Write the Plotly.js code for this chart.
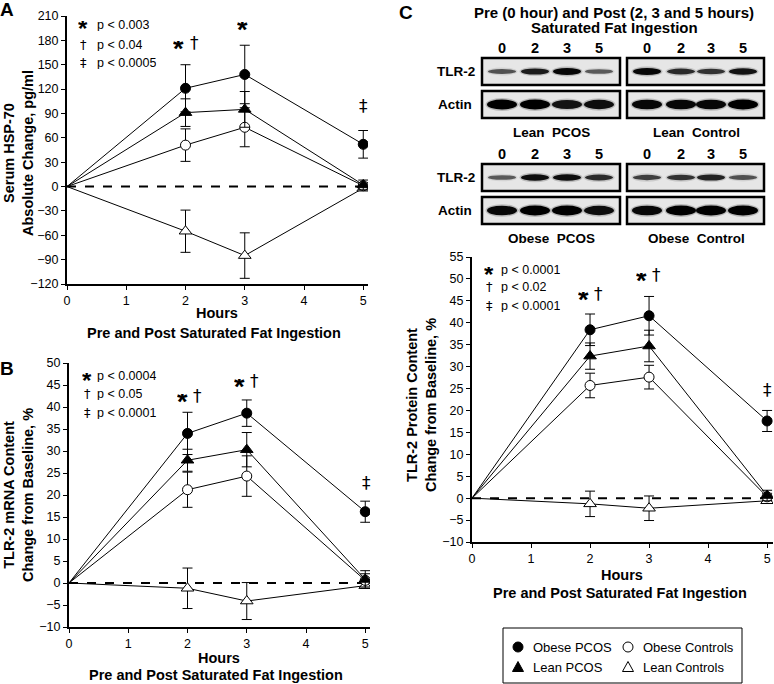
<!DOCTYPE html>
<html>
<head>
<meta charset="utf-8">
<script src="https://cdn.plot.ly/plotly-3.0.1.min.js"></script>
<style>html,body{margin:0;padding:0;background:#fff;}#chart{width:774px;height:684px;}</style>
</head>
<body>
<div id="chart"></div>
<script>
// ---------- DATA ----------
const hours = [0, 2, 3, 5];
const hourTicks = [0, 1, 2, 3, 4, 5];
const seriesNames = ['Obese PCOS', 'Lean PCOS', 'Obese Controls', 'Lean Controls'];

// Panel A: Serum HSP-70 absolute change, pg/ml
const hspObesePCOS = [0, 121, 138, 52];
const hspObesePCOSErr = [NaN, 29, 36, 17];
const hspLeanPCOS = [0, 91, 95, 2];
const hspLeanPCOSErr = [NaN, 17, 22, 6];
const hspObeseCtrl = [0, 51, 73, 1];
const hspObeseCtrlErr = [NaN, 20, 24, 4];
const hspLeanCtrl = [0, -55, -85, -2];
const hspLeanCtrlErr = [NaN, 26, 28, 3];

// Panel B: TLR-2 mRNA content change from baseline, %
const mrnaObesePCOS = [0, 34.0, 38.6, 16.2];
const mrnaObesePCOSErr = [NaN, 4.8, 3.0, 2.4];
const mrnaLeanPCOS = [0, 27.9, 30.3, 0.8];
const mrnaLeanPCOSErr = [NaN, 2.5, 3.9, 2.0];
const mrnaObeseCtrl = [0, 21.2, 24.3, 0.6];
const mrnaObeseCtrlErr = [NaN, 4.0, 4.6, 1.5];
const mrnaLeanCtrl = [0, -1.2, -4.1, -0.6];
const mrnaLeanCtrlErr = [NaN, 4.6, 4.2, 0.5];

// Panel C: TLR-2 protein content change from baseline, %
const protObesePCOS = [0, 38.4, 41.6, 17.6];
const protObesePCOSErr = [NaN, 3.6, 4.4, 2.4];
const protLeanPCOS = [0, 32.4, 34.7, 0.6];
const protLeanPCOSErr = [NaN, 3.0, 3.6, 1.2];
const protObeseCtrl = [0, 25.7, 27.6, 0.3];
const protObeseCtrlErr = [NaN, 2.8, 2.7, 0.8];
const protLeanCtrl = [0, -1.3, -2.3, -0.6];
const protLeanCtrlErr = [NaN, 2.9, 2.8, 0.5];

// Significance legends
const sigA = ['p < 0.003', 'p < 0.04', 'p < 0.0005'];
const sigB = ['p < 0.0004', 'p < 0.05', 'p < 0.0001'];
const sigC = ['p < 0.0001', 'p < 0.02', 'p < 0.0001'];
const sigSymbols = ['*', '\u2020', '\u2021'];

// Western blot lanes and relative band intensities (0..1)
const blotLanes = ['0', '2', '3', '5'];
const tlr2LeanPCOS = [0.45, 0.8, 0.95, 0.4];
const actinLeanPCOS = [1.0, 1.0, 0.85, 0.9];
const tlr2LeanCtrl = [0.95, 0.7, 0.65, 0.85];
const actinLeanCtrl = [0.95, 0.95, 0.95, 1.0];
const tlr2ObesePCOS = [0.4, 0.9, 0.9, 0.7];
const actinObesePCOS = [0.95, 1.0, 1.0, 0.9];
const tlr2ObeseCtrl = [0.55, 0.65, 0.75, 0.45];
const actinObeseCtrl = [0.95, 1.0, 1.0, 1.0];

// ---------- HELPERS ----------
const W = 774, H = 684;
const px = x => x / W;
const py = y => 1 - y / H;
const FONT = 'Liberation Sans, Arial, sans-serif';
const SYMFONT = 'DejaVu Sans, Liberation Sans, sans-serif';

function series(x, y, err, style, xa, ya) {
  return {
    type: 'scatter', mode: 'lines+markers', x: x, y: y,
    xaxis: xa, yaxis: ya, showlegend: false, hoverinfo: 'skip',
    line: {color: '#000', width: 1},
    marker: {symbol: style.symbol, size: x.map(h => h === 0 ? 0 : style.size), opacity: 1,
             color: style.fill, line: {color: '#000', width: 1}},
    error_y: {type: 'data', array: err, visible: true, color: '#000', thickness: 1, width: 5}
  };
}
const stObesePCOS = {symbol: 'circle', size: 10, fill: '#000'};
const stLeanPCOS = {symbol: 'triangle-up', size: 11, fill: '#000'};
const stObeseCtrl = {symbol: 'circle', size: 10, fill: '#fff'};
const stLeanCtrl = {symbol: 'triangle-up', size: 11, fill: '#fff'};

const data = [
  series(hours, hspLeanCtrl, hspLeanCtrlErr, stLeanCtrl, 'x', 'y'),
  series(hours, hspObeseCtrl, hspObeseCtrlErr, stObeseCtrl, 'x', 'y'),
  series(hours, hspLeanPCOS, hspLeanPCOSErr, stLeanPCOS, 'x', 'y'),
  series(hours, hspObesePCOS, hspObesePCOSErr, stObesePCOS, 'x', 'y'),
  series(hours, mrnaLeanCtrl, mrnaLeanCtrlErr, stLeanCtrl, 'x2', 'y2'),
  series(hours, mrnaObeseCtrl, mrnaObeseCtrlErr, stObeseCtrl, 'x2', 'y2'),
  series(hours, mrnaLeanPCOS, mrnaLeanPCOSErr, stLeanPCOS, 'x2', 'y2'),
  series(hours, mrnaObesePCOS, mrnaObesePCOSErr, stObesePCOS, 'x2', 'y2'),
  series(hours, protLeanCtrl, protLeanCtrlErr, stLeanCtrl, 'x3', 'y3'),
  series(hours, protObeseCtrl, protObeseCtrlErr, stObeseCtrl, 'x3', 'y3'),
  series(hours, protLeanPCOS, protLeanPCOSErr, stLeanPCOS, 'x3', 'y3'),
  series(hours, protObesePCOS, protObesePCOSErr, stObesePCOS, 'x3', 'y3')
];

function xAxis(domain, range, anchor) {
  return {domain: domain, range: range, anchor: anchor, tickvals: hourTicks,
    ticks: 'outside', ticklen: 4, tickwidth: 1, tickcolor: '#000',
    showline: true, linecolor: '#000', linewidth: 2, showgrid: false, zeroline: false,
    tickfont: {family: FONT, size: 12.5, color: '#000'}, fixedrange: true};
}
function yAxis(domain, range, dtick, anchor) {
  return {domain: domain, range: range, anchor: anchor, dtick: dtick, tick0: 0,
    ticks: 'outside', ticklen: 4, tickwidth: 1, tickcolor: '#000',
    showline: true, linecolor: '#000', linewidth: 2, showgrid: false, zeroline: false,
    tickfont: {family: FONT, size: 12.5, color: '#000'}, fixedrange: true};
}

const shapes = [];
const annotations = [];

// zero dashed lines
[['x', 'y', 5.08], ['x2', 'y2', 5.08], ['x3', 'y3', 5.1]].forEach(([xa, ya, xe]) => {
  shapes.push({type: 'line', xref: xa, yref: ya, x0: 0, x1: xe, y0: 0, y1: 0,
    line: {color: '#000', width: 2, dash: 'dash'}, layer: 'below'});
});

function txt(x, y, text, opts) {
  annotations.push(Object.assign({xref: 'paper', yref: 'paper', x: px(x), y: py(y), text: text,
    showarrow: false, xanchor: 'center', yanchor: 'middle',
    font: {family: FONT, size: 12.5, color: '#000'}}, opts || {}));
}
function bold(x, y, text, size, opts) {
  txt(x, y, '<b>' + text + '</b>', Object.assign({font: {family: FONT, size: size, color: '#000'}}, opts || {}));
}

// Panel letters
bold(7, 9, 'A', 19);
bold(7, 368, 'B', 19);
bold(406, 12, 'C', 19);

// Axis titles
bold(18, 153, 'Serum HSP-70<br>Absolute Change, pg/ml', 14.5, {textangle: -90});
bold(18, 495, 'TLR-2 mRNA Content<br>Change from Baseline, %', 14.5, {textangle: -90});
bold(422, 405, 'TLR-2 Protein Content<br>Change from Baseline, %', 14.5, {textangle: -90});
bold(217, 313, 'Hours', 14.5);
bold(214, 333, 'Pre and Post Saturated Fat Ingestion', 14.5);
bold(219, 658, 'Hours', 14.5);
bold(216, 675, 'Pre and Post Saturated Fat Ingestion', 14.5);
bold(622, 575, 'Hours', 14.5);
bold(620, 593, 'Pre and Post Saturated Fat Ingestion', 14.5);

// significance keys
function sigKey(labels, symX, textX, rows) {
  labels.forEach((lab, i) => {
    if (i === 0) {
      bold(symX, rows[i] + 5, '*', 24, {height: 15});
    } else {
      txt(symX, rows[i], sigSymbols[i], {font: {family: SYMFONT, size: 13, color: '#000'}, height: 13});
    }
    txt(textX, rows[i], lab, {xanchor: 'left', height: 13});
  });
}
sigKey(sigA, 83, 95, [24, 44, 63]);
sigKey(sigB, 87, 95, [375, 393, 412]);
sigKey(sigC, 489, 499, [269, 287, 305]);

// significance markers over points
function star(x, y) { bold(x, y + 6, '*', 27, {height: 16}); }
function dag(x, y, s) { txt(x, y, s, {font: {family: SYMFONT, size: 17, color: '#000'}}); }
star(178, 43); dag(194, 43, '\u2020');
star(242, 24);
dag(363, 106, '\u2021');
star(182, 396); dag(197, 396, '\u2020');
star(239, 381); dag(254, 381, '\u2020');
dag(366, 483, '\u2021');
star(583, 294); dag(598, 294, '\u2020');
star(641, 275); dag(656, 275, '\u2020');
dag(767, 390, '\u2021');

// ---------- Western blots ----------
bold(614, 13, 'Pre (0 hour) and Post (2, 3 and 5 hours)', 15);
bold(614, 27, 'Saturated Fat Ingestion', 15);

const leftLanes = [502, 535, 567, 599];
const rightLanes = [647, 681, 711, 743];
function blotBox(x0, x1, y0, y1) {
  shapes.push({type: 'rect', xref: 'paper', yref: 'paper', x0: px(x0), x1: px(x1), y0: py(y1), y1: py(y0),
    fillcolor: '#e6e6e6', line: {color: '#000', width: 2.5}, layer: 'above'});
}
function bands(lanes, intens, yc, maxH, bw) {
  intens.forEach((v, i) => {
    const h = maxH * (0.45 + 0.55 * v);
    shapes.push({type: 'circle', xref: 'paper', yref: 'paper',
      x0: px(lanes[i] - bw / 2 - 1.5), x1: px(lanes[i] + bw / 2 + 1.5),
      y0: py(yc + h / 2 + 1.5), y1: py(yc - h / 2 - 1.5),
      fillcolor: 'rgba(0,0,0,' + (0.2 * v).toFixed(2) + ')', line: {width: 0}, layer: 'above'});
    shapes.push({type: 'circle', xref: 'paper', yref: 'paper',
      x0: px(lanes[i] - bw / 2), x1: px(lanes[i] + bw / 2),
      y0: py(yc + h / 2), y1: py(yc - h / 2),
      fillcolor: 'rgba(0,0,0,' + (0.3 + 0.7 * v).toFixed(2) + ')', line: {width: 0}, layer: 'above'});
  });
}
function blotGroup(top, lblLeft, lblRight, tL, aL, tR, aR) {
  blotLanes.forEach((l, i) => {
    bold(leftLanes[i], top - 10, l, 14.5);
    bold(rightLanes[i], top - 10, l, 14.5);
  });
  const tY0 = top, tY1 = top + 27, aY0 = top + 33, aY1 = top + 60;
  bold(477, (tY0 + tY1) / 2, 'TLR-2', 13.5, {xanchor: 'right'});
  bold(474, (aY0 + aY1) / 2, 'Actin', 13.5, {xanchor: 'right'});
  blotBox(482, 620, tY0, tY1); blotBox(627, 764, tY0, tY1);
  blotBox(482, 620, aY0, aY1); blotBox(627, 764, aY0, aY1);
  bands(leftLanes, tL, (tY0 + tY1) / 2, 7, 28);
  bands(rightLanes, tR, (tY0 + tY1) / 2, 7, 28);
  bands(leftLanes, aL, (aY0 + aY1) / 2, 10, 30);
  bands(rightLanes, aR, (aY0 + aY1) / 2, 10, 30);
  bold(551, aY1 + 15, lblLeft, 13.5);
  bold(696, aY1 + 15, lblRight, 13.5);
}
blotGroup(58, 'Lean&nbsp; PCOS', 'Lean&nbsp; Control', tlr2LeanPCOS, actinLeanPCOS, tlr2LeanCtrl, actinLeanCtrl);
blotGroup(164, 'Obese&nbsp; PCOS', 'Obese&nbsp; Control', tlr2ObesePCOS, actinObesePCOS, tlr2ObeseCtrl, actinObeseCtrl);

// ---------- Legend ----------
shapes.push({type: 'rect', xref: 'paper', yref: 'paper', x0: px(503), x1: px(742), y0: py(683), y1: py(628),
  line: {color: '#000', width: 1}, fillcolor: 'rgba(0,0,0,0)'});
function legCircle(cx, cy, fill) {
  shapes.push({type: 'circle', xref: 'paper', yref: 'paper', x0: px(cx - 5), x1: px(cx + 5), y0: py(cy + 5), y1: py(cy - 5),
    fillcolor: fill, line: {color: '#000', width: 1}});
}
function legTri(cx, cy, fill) {
  const p = (x, y) => px(x).toFixed(5) + ',' + py(y).toFixed(5);
  shapes.push({type: 'path', xref: 'paper', yref: 'paper',
    path: 'M' + p(cx - 5.5, cy + 4.5) + ' L' + p(cx + 5.5, cy + 4.5) + ' L' + p(cx, cy - 5.5) + ' Z',
    fillcolor: fill, line: {color: '#000', width: 1}});
}
const legFont = {family: FONT, size: 13, color: '#000'};
legCircle(518, 647, '#000'); txt(531, 647, seriesNames[0], {xanchor: 'left', font: legFont});
legTri(518, 667, '#000'); txt(531, 667, seriesNames[1], {xanchor: 'left', font: legFont});
legCircle(628, 647, '#fff'); txt(641, 647, seriesNames[2], {xanchor: 'left', font: legFont});
legTri(628, 667, '#fff'); txt(641, 667, seriesNames[3], {xanchor: 'left', font: legFont});

const layout = {
  width: W, height: H, margin: {l: 0, r: 0, t: 0, b: 0},
  paper_bgcolor: '#fff', plot_bgcolor: 'rgba(0,0,0,0)', showlegend: false,
  font: {family: FONT, color: '#000'},
  xaxis: xAxis([px(67), px(368)], [0, 5.08], 'y'),
  yaxis: yAxis([py(284), py(16)], [-120, 210], 30, 'x'),
  xaxis2: xAxis([px(69), px(370)], [0, 5.08], 'y2'),
  yaxis2: yAxis([py(627), py(363)], [-10, 50], 5, 'x2'),
  xaxis3: xAxis([px(472), px(773)], [0, 5.1], 'y3'),
  yaxis3: yAxis([py(542), py(257)], [-10, 55], 5, 'x3'),
  shapes: shapes, annotations: annotations
};
Plotly.newPlot('chart', data, layout, {displayModeBar: false, staticPlot: true});
</script>
</body>
</html>
